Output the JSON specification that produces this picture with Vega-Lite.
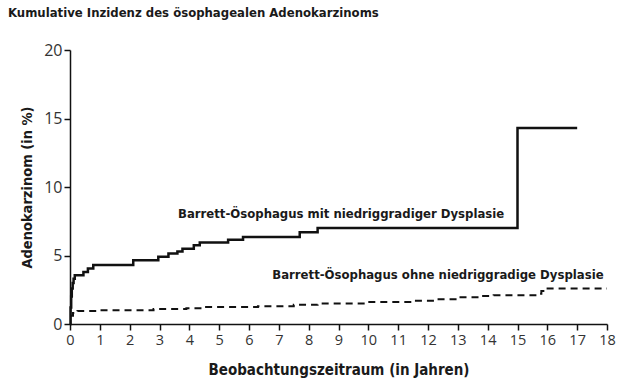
{
  "$schema": "https://vega.github.io/schema/vega-lite/v6.json",
  "autosize": "none",
  "width": 537,
  "height": 274,
  "padding": {"left": 70, "top": 50, "right": 13, "bottom": 68},
  "background": "white",
  "title": {
    "text": "Kumulative Inzidenz des ösophagealen Adenokarzinoms",
    "anchor": "start",
    "frame": "group",
    "dx": -62,
    "offset": 22,
    "font": "DejaVu Sans Condensed, Roboto",
    "fontSize": 13,
    "fontWeight": "bold",
    "color": "#1a1a1a"
  },
  "config": {
    "view": {"stroke": null},
    "axis": {
      "grid": false,
      "domainColor": "#111",
      "domainWidth": 1.5,
      "tickColor": "#111",
      "tickWidth": 1.5,
      "tickSize": 6,
      "labelFont": "Open Sans",
      "labelColor": "#333",
      "labelOverlap": false,
      "labelFlush": false,
      "titleFont": "DejaVu Sans Condensed, Roboto",
      "titleColor": "#1a1a1a",
      "titleFontWeight": "bold"
    }
  },
  "encoding": {
    "x": {"field": "t", "type": "quantitative", "scale": {"domain": [0, 18], "nice": false},
      "axis": {"values": [0,1,2,3,4,5,6,7,8,9,10,11,12,13,14,15,16,17,18], "tickCount": 40, "format": "d",
        "labelFontSize": 14.5, "labelPadding": 3,
        "title": "Beobachtungszeitraum (in Jahren)", "titleFontSize": 15, "titlePadding": 16}},
    "y": {"field": "v", "type": "quantitative", "scale": {"domain": [0, 20], "nice": false},
      "axis": {"values": [0, 5, 10, 15, 20], "tickCount": 10, "format": "d", "labelFontSize": 16, "labelPadding": 2,
        "title": "Adenokarzinom (in %)", "titleFontSize": 14.5, "titlePadding": 9}}
  },
  "layer": [
    {
      "data": {"values": [
        {"t": 0, "v": 0}, {"t": 0.02, "v": 1.2}, {"t": 0.04, "v": 2.0}, {"t": 0.06, "v": 2.6},
        {"t": 0.09, "v": 3.0}, {"t": 0.12, "v": 3.3}, {"t": 0.16, "v": 3.55}, {"t": 0.45, "v": 3.8},
        {"t": 0.6, "v": 4.05}, {"t": 0.78, "v": 4.3}, {"t": 2.12, "v": 4.65}, {"t": 2.96, "v": 4.9},
        {"t": 3.3, "v": 5.15}, {"t": 3.6, "v": 5.3}, {"t": 3.77, "v": 5.5}, {"t": 4.15, "v": 5.75},
        {"t": 4.35, "v": 5.95}, {"t": 5.3, "v": 6.15}, {"t": 5.8, "v": 6.35}, {"t": 7.7, "v": 6.7},
        {"t": 8.3, "v": 7.0}, {"t": 15, "v": 14.3}, {"t": 17, "v": 14.3}
      ]},
      "mark": {"type": "line", "interpolate": "step-after", "color": "#111", "strokeWidth": 2.5}
    },
    {
      "data": {"values": [
        {"t": 0, "v": 0.6}, {"t": 0.1, "v": 0.8}, {"t": 0.25, "v": 0.95}, {"t": 1.0, "v": 1.0},
        {"t": 2.8, "v": 1.1}, {"t": 3.9, "v": 1.15}, {"t": 4.5, "v": 1.25}, {"t": 6.3, "v": 1.3},
        {"t": 7.5, "v": 1.4}, {"t": 8.3, "v": 1.5}, {"t": 9.9, "v": 1.6}, {"t": 11.5, "v": 1.7},
        {"t": 12.2, "v": 1.8}, {"t": 13.0, "v": 1.95}, {"t": 13.8, "v": 2.05}, {"t": 14.2, "v": 2.1},
        {"t": 15.6, "v": 2.2}, {"t": 15.8, "v": 2.4}, {"t": 15.9, "v": 2.6}, {"t": 18, "v": 2.6}
      ]},
      "mark": {"type": "line", "interpolate": "step-after", "color": "#111", "strokeWidth": 2, "strokeDash": [7, 5]}
    },
    {
      "data": {"values": [{"label": "Barrett-Ösophagus mit niedriggradiger Dysplasie", "t": 3.62, "v": 8.0},
                          {"label": "Barrett-Ösophagus ohne niedriggradige Dysplasie", "t": 6.78, "v": 3.6}]},
      "mark": {"type": "text", "align": "left", "baseline": "middle",
        "font": "DejaVu Sans Condensed, Roboto", "fontWeight": "bold", "fontSize": 13, "color": "#1a1a1a"},
      "encoding": {
        "text": {"field": "label"}
      }
    }
  ]
}
